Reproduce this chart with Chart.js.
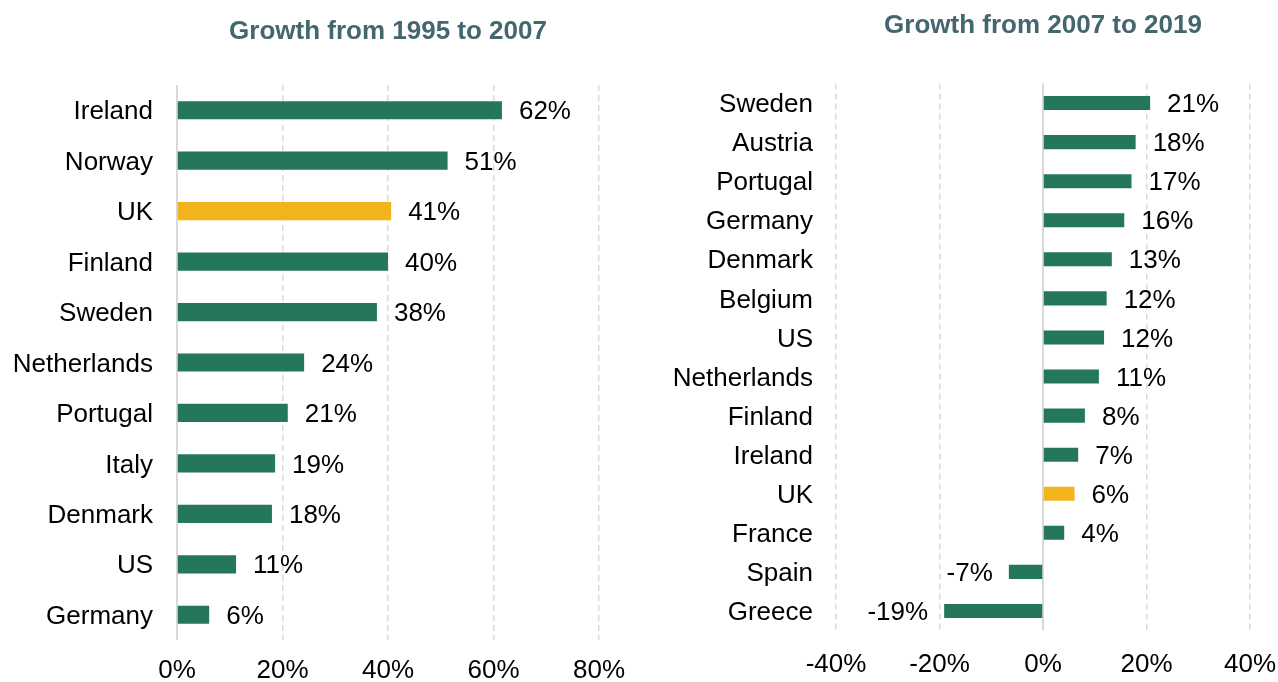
<!DOCTYPE html>
<html>
<head>
<meta charset="utf-8">
<script src="https://cdn.jsdelivr.net/npm/chart.js@4/dist/chart.umd.min.js"></script>
<style>
  html, body { margin: 0; padding: 0; background: #fff; }
  body { width: 1278px; height: 682px; position: relative; overflow: hidden; }
  .box { position: absolute; top: 0; height: 682px; }
  #leftBox { left: 0; width: 640px; }
  #rightBox { left: 640px; width: 638px; }
</style>
</head>
<body>
<div class="box" id="leftBox"><canvas id="leftChart"></canvas></div>
<div class="box" id="rightBox"><canvas id="rightChart"></canvas></div>
<script>
// ---- Data ----
const leftTitle = "Growth from 1995 to 2007";
const leftCategories = ["Ireland", "Norway", "UK", "Finland", "Sweden", "Netherlands", "Portugal", "Italy", "Denmark", "US", "Germany"];
const leftValues = [61.6, 51.3, 40.6, 40.0, 37.9, 24.1, 21.0, 18.6, 18.0, 11.2, 6.1];
const leftTicks = [0, 20, 40, 60, 80];

const rightTitle = "Growth from 2007 to 2019";
const rightCategories = ["Sweden", "Austria", "Portugal", "Germany", "Denmark", "Belgium", "US", "Netherlands", "Finland", "Ireland", "UK", "France", "Spain", "Greece"];
const rightValues = [20.7, 17.9, 17.1, 15.7, 13.3, 12.3, 11.8, 10.8, 8.1, 6.8, 6.1, 4.1, -6.6, -19.1];
const rightTicks = [-40, -20, 0, 20, 40];

const highlight = "UK";

// ---- Styles ----
const GREEN = "#25775a";
const YELLOW = "#f2b41c";
const GRID = "#d9d9d9";
const TITLE_COLOR = "#44666f";
const FONT = "'Liberation Sans', Arial, sans-serif";
const FS = 26;

Chart.defaults.font.family = FONT;
Chart.defaults.color = "#000";

const valueLabels = {
  id: "valueLabels",
  afterDatasetsDraw(chart) {
    const ctx = chart.ctx;
    const ds = chart.data.datasets[0];
    const meta = chart.getDatasetMeta(0);
    ctx.save();
    ctx.font = FS + "px " + FONT;
    ctx.fillStyle = "#000";
    ctx.textBaseline = "middle";
    meta.data.forEach((el, i) => {
      const v = ds.data[i];
      const txt = Math.round(v) + "%";
      if (v >= 0) { ctx.textAlign = "left"; ctx.fillText(txt, el.x + 17, el.y + 2); }
      else { ctx.textAlign = "right"; ctx.fillText(txt, el.x - 16, el.y + 2); }
    });
    ctx.restore();
  }
};

const zeroLine = {
  id: "zeroLine",
  beforeDatasetsDraw(chart) {
    const ctx = chart.ctx;
    const x = Math.round(chart.scales.x.getPixelForValue(0));
    ctx.save();
    ctx.strokeStyle = GRID;
    ctx.lineWidth = 2;
    ctx.beginPath();
    ctx.moveTo(x, chart.chartArea.top);
    ctx.lineTo(x, chart.chartArea.bottom);
    ctx.stroke();
    ctx.restore();
  }
};

function makeChart(id, cats, vals, ticks, title, o) {
  return new Chart(document.getElementById(id), {
    type: "bar",
    data: {
      labels: cats,
      datasets: [{
        data: vals,
        backgroundColor: cats.map(c => c === highlight ? YELLOW : GREEN),
        borderWidth: 0,
        barPercentage: 0.36,
        categoryPercentage: 1.0
      }]
    },
    options: {
      indexAxis: "y",
      responsive: true,
      maintainAspectRatio: false,
      animation: false,
      events: [],
      layout: { padding: { left: 0, right: o.padRight, top: 0, bottom: 0 } },
      plugins: {
        legend: { display: false },
        tooltip: { enabled: false },
        title: {
          display: true,
          text: title,
          fullSize: false,
          color: TITLE_COLOR,
          font: { size: FS, weight: "bold", family: FONT },
          padding: { top: o.titleTop, bottom: o.titleBottom }
        }
      },
      scales: {
        x: {
          min: ticks[0],
          max: ticks[ticks.length - 1],
          afterBuildTicks: (s) => { s.ticks = ticks.map(v => ({ value: v })); },
          afterFit: (s) => { s.height = o.xHeight; s.paddingLeft = 0; s.paddingRight = 0; },
          grid: { color: GRID, lineWidth: 1.5, drawTicks: false },
          border: { display: false, dash: [6, 4] },
          ticks: {
            padding: o.xPad,
            font: { size: FS },
            color: "#000",
            callback: (v) => v + "%"
          }
        },
        y: {
          afterFit: (s) => { s.width = o.yWidth; },
          grid: { display: false, drawTicks: false },
          border: { display: false },
          ticks: { padding: o.yPad, labelOffset: 2, font: { size: FS }, color: "#000" }
        }
      }
    },
    plugins: [zeroLine, valueLabels]
  });
}

makeChart("leftChart", leftCategories, leftValues, leftTicks, leftTitle,
  { padRight: 41, yWidth: 177, yPad: 24, xHeight: 42, xPad: 15, titleTop: 16.4, titleBottom: 37.4 });
makeChart("rightChart", rightCategories, rightValues, rightTicks, rightTitle,
  { padRight: 28, yWidth: 196, yPad: 23, xHeight: 51.5, xPad: 19, titleTop: 10.4, titleBottom: 41.9 });
</script>
</body>
</html>
